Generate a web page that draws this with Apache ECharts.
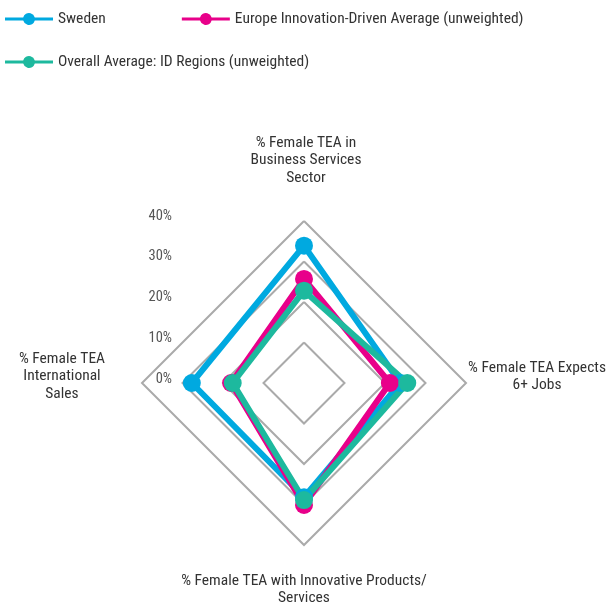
<!DOCTYPE html>
<html>
<head>
<meta charset="utf-8">
<script src="https://cdn.jsdelivr.net/npm/echarts@6/dist/echarts.min.js"></script>
<style>
html,body{margin:0;padding:0;background:#fff;}
#chart{width:613px;height:608px;}
</style>
</head>
<body>
<div id="chart"></div>
<script>
// Indicators (ECharts lays them out counter-clockwise from the top)
var indicators = [
  "% Female TEA in\nBusiness Services\nSector",
  "% Female TEA\nInternational\nSales",
  "% Female TEA with Innovative Products/\nServices",
  "% Female TEA Expects\n6+ Jobs"
];
var seriesNames = [
  "Sweden",
  "Europe Innovation-Driven Average (unweighted)",
  "Overall Average: ID Regions (unweighted)"
];
var sweden = [33.9, 27.7, 28.2, 23.8];
var europe = [25.7, 18.0, 30.1, 21.2];
var overall = [22.8, 17.6, 28.9, 25.5];
var tickLabels = ["0%", "10%", "20%", "30%", "40%"];
var colors = ["#00a9e0", "#e8008a", "#1db99e"];

var FONT = "Roboto Condensed";
var FS = 15.5;
var chart = echarts.init(document.getElementById('chart'), null, {renderer: 'canvas'});

var legendIcon = 'path://M0,4.5 H18.2 A6,6 0 0 1 29.8,4.5 H48 V7.5 H29.8 A6,6 0 0 1 18.2,7.5 H0 Z';
var legendText = {fontFamily: FONT, fontSize: FS, color: '#333'};

var seriesData = [sweden, europe, overall];
var option = {
  backgroundColor: '#fff',
  textStyle: {fontFamily: FONT},
  legend: [
    {
      data: [seriesNames[0], seriesNames[1]],
      left: 0, top: 6,
      itemWidth: 48, itemHeight: 12, itemGap: 76,
      icon: legendIcon,
      textStyle: legendText
    },
    {
      data: [seriesNames[2]],
      left: 0, top: 49,
      itemWidth: 48, itemHeight: 12,
      icon: legendIcon,
      textStyle: legendText
    }
  ],
  grid: {left: 180, top: 216, width: 40, height: 163, show: false},
  xAxis: {type: 'value', show: false},
  yAxis: {
    type: 'value', min: 0, max: 40, interval: 10,
    axisLine: {show: false}, axisTick: {show: false}, splitLine: {show: false},
    axisLabel: {
      margin: 8, fontFamily: FONT, fontSize: 14.5, color: '#555',
      formatter: function (v) { return tickLabels[Math.round(v / 10)]; }
    }
  },
  radar: {
    center: [304, 383],
    radius: 162,
    startAngle: 90,
    shape: 'polygon',
    splitNumber: 4,
    indicator: indicators.map(function (n) { return {name: n, min: 0, max: 40}; }),
    axisName: {show: false},
    axisLine: {show: false},
    axisTick: {show: false},
    axisLabel: {show: false},
    splitArea: {show: false},
    splitLine: {lineStyle: {color: '#aaaaaa', width: 2}}
  },
  series: [{
    type: 'radar',
    symbol: 'circle',
    symbolSize: 18,
    data: seriesData.map(function (vals, i) {
      return {
        name: seriesNames[i],
        value: vals,
        itemStyle: {color: colors[i]},
        lineStyle: {color: colors[i], width: 6}
      };
    })
  }]
};

// axis-name text placements (top, left, bottom, right)
var namePos = [
  {x: 306, y: 134},
  {x: 62, y: 350},
  {x: 304, y: 572},
  {x: 537, y: 359}
];
option.graphic = indicators.map(function (n, i) {
  return {
    type: 'text',
    x: namePos[i].x, y: namePos[i].y,
    silent: true,
    style: {
      text: n, fill: '#333', font: FS + 'px "' + FONT + '"',
      align: 'center', verticalAlign: 'top', lineHeight: 17.5
    }
  };
});

chart.setOption(option);
</script>
</body>
</html>
